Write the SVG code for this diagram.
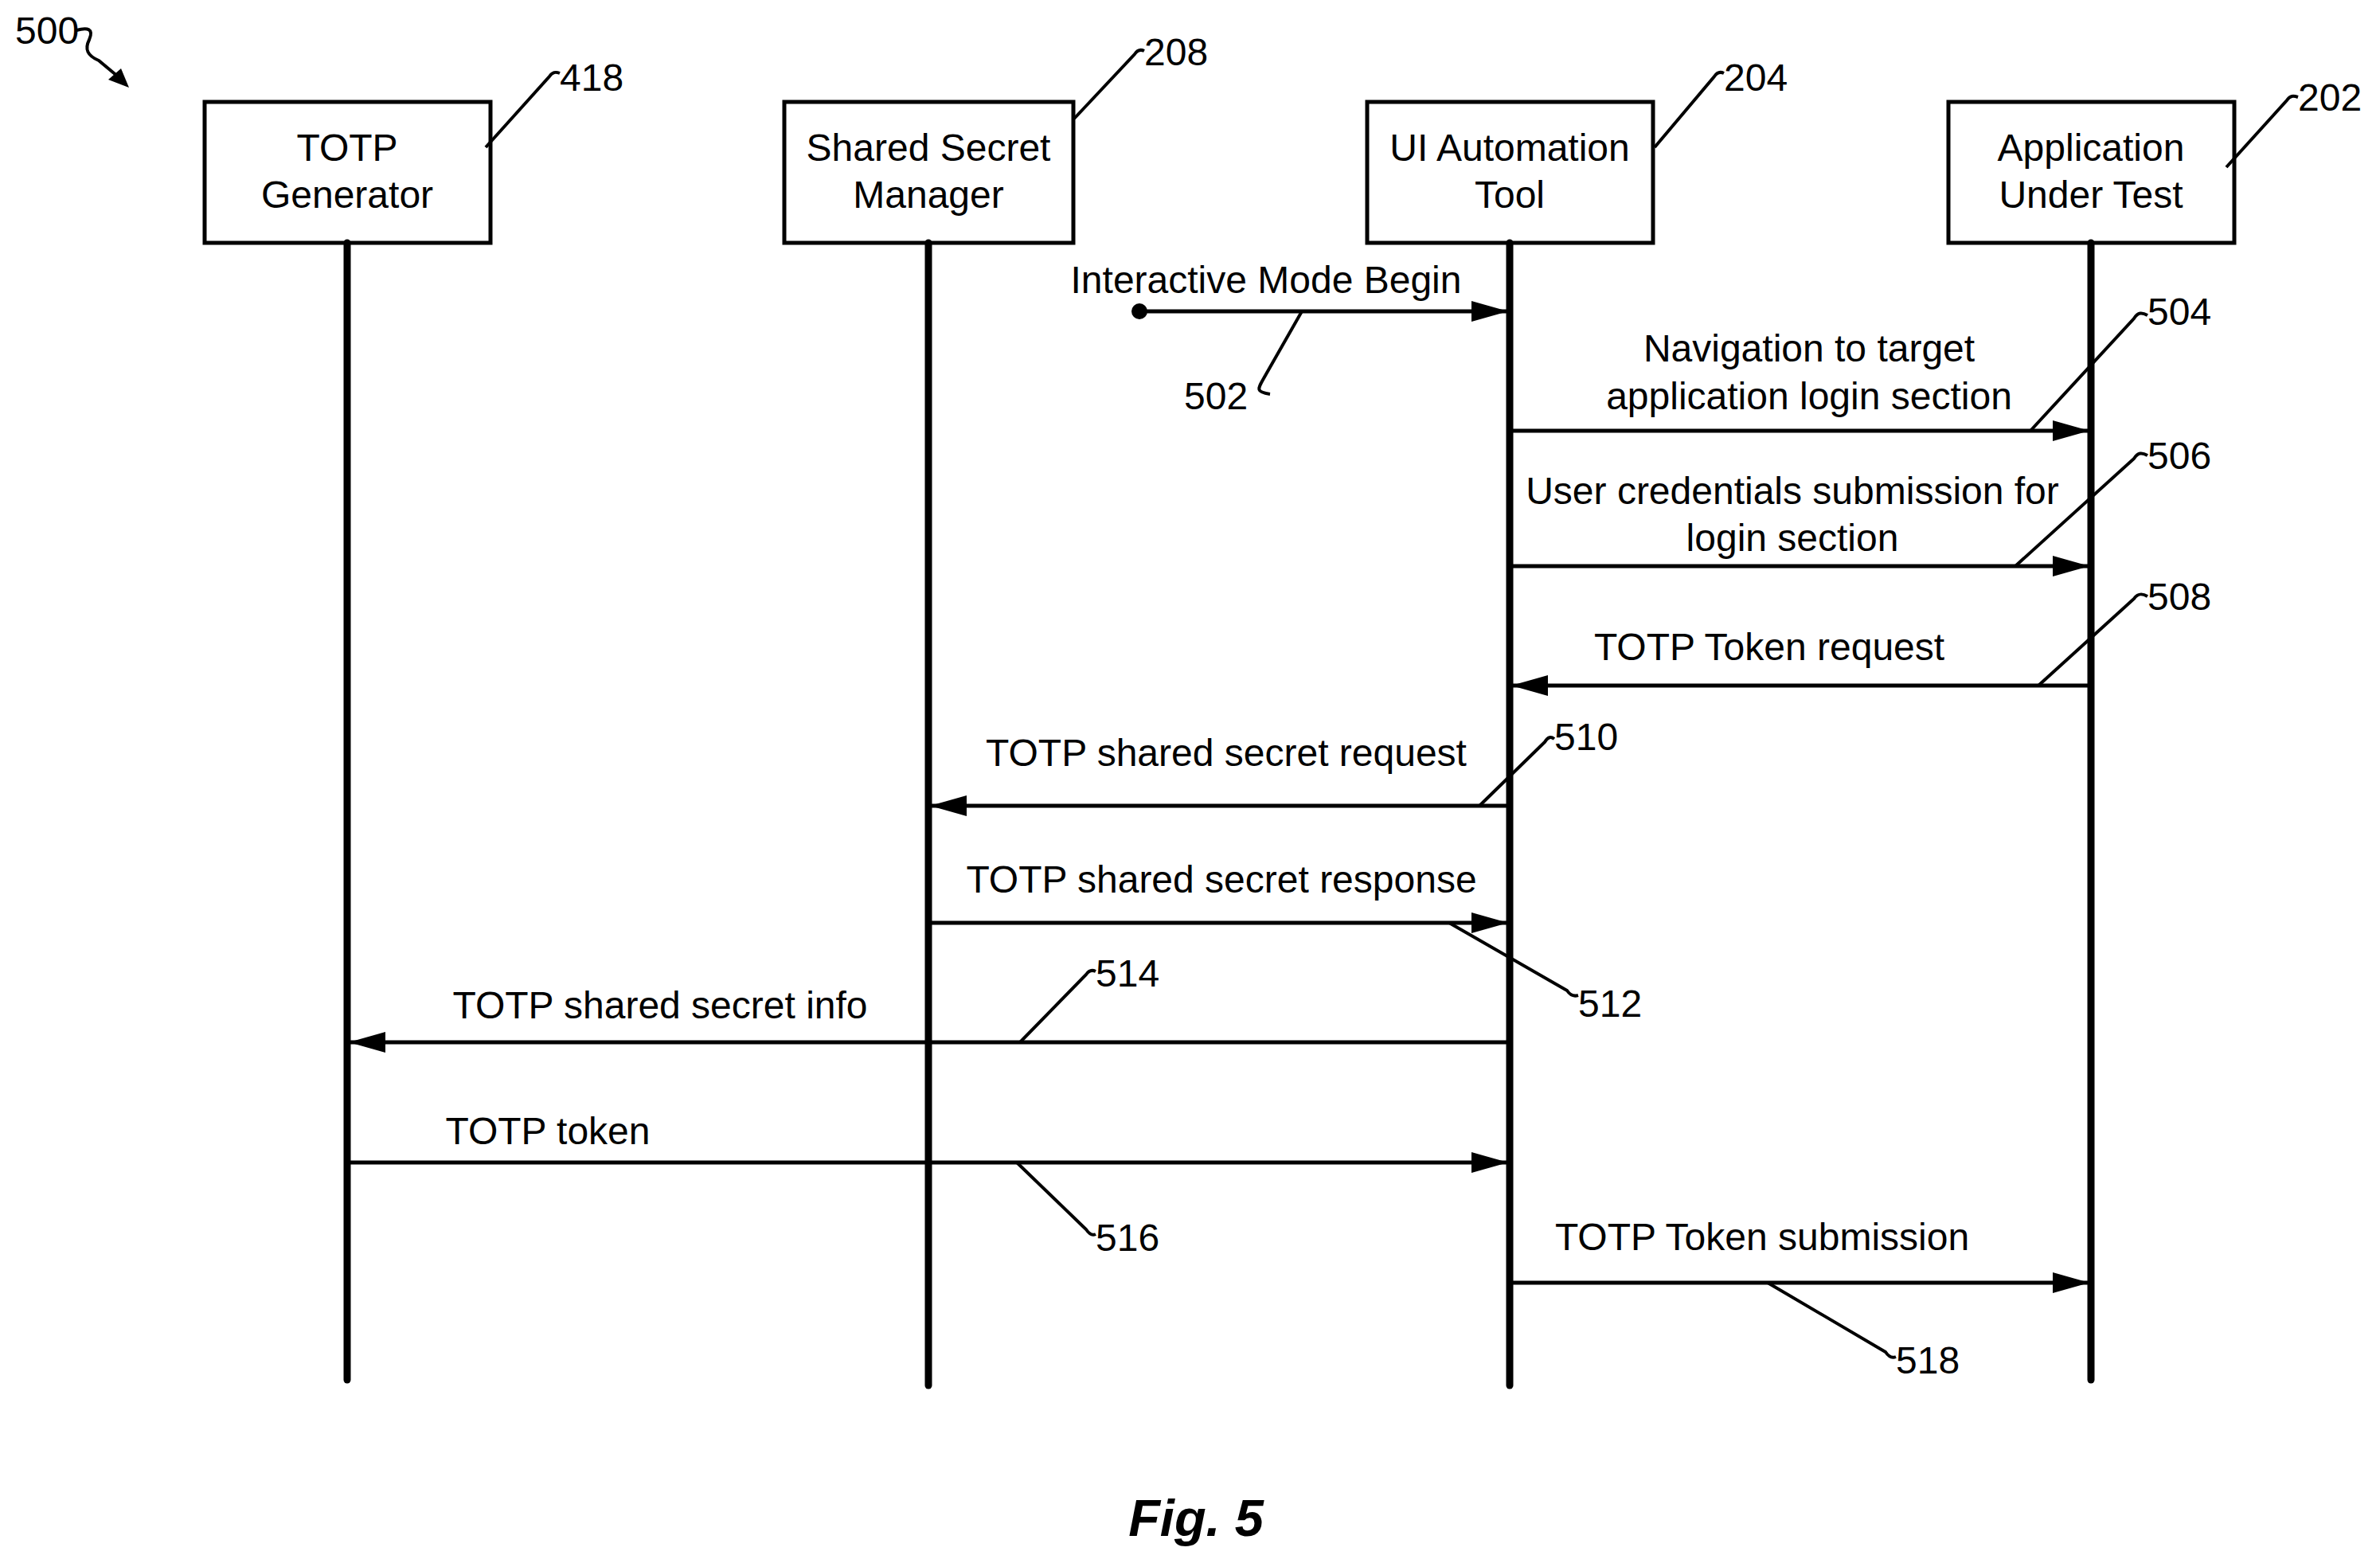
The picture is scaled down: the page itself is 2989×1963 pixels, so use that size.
<svg xmlns="http://www.w3.org/2000/svg" width="2989" height="1963" viewBox="0 0 2989 1963">
<style>
text{font-family:"Liberation Sans",Arial,sans-serif;font-size:48px;fill:#000}
.m{text-anchor:middle}
.box{fill:#fff;stroke:#000;stroke-width:5}
.life{stroke:#000;stroke-width:9;stroke-linecap:round}
.msg{stroke:#000;stroke-width:5;fill:none;marker-end:url(#ah)}
.ld{stroke:#000;stroke-width:4;fill:none}
</style>
<defs>
<marker id="ah" markerUnits="userSpaceOnUse" markerWidth="46" markerHeight="26" refX="44" refY="13" orient="auto"><path d="M0,0 L46,13 L0,26 Z" fill="#000"/></marker>
</defs>
<rect width="2989" height="1963" fill="#fff"/>
<g id="n418"><rect class="box" x="257" y="128" width="359" height="177"/><text class="m" x="436" y="202">TOTP</text><text class="m" x="436" y="261">Generator</text></g>
<g id="n208"><rect class="box" x="985" y="128" width="363" height="177"/><text class="m" x="1166" y="202">Shared Secret</text><text class="m" x="1166" y="261">Manager</text></g>
<g id="n204"><rect class="box" x="1717" y="128" width="359" height="177"/><text class="m" x="1896" y="202">UI Automation</text><text class="m" x="1896" y="261">Tool</text></g>
<g id="n202"><rect class="box" x="2447" y="128" width="359" height="177"/><text class="m" x="2626" y="202">Application</text><text class="m" x="2626" y="261">Under Test</text></g>
<g id="lifelines">
<line class="life" x1="436" y1="305" x2="436" y2="1733"/>
<line class="life" x1="1166" y1="305" x2="1166" y2="1740"/>
<line class="life" x1="1896" y1="305" x2="1896" y2="1740"/>
<line class="life" x1="2626" y1="305" x2="2626" y2="1733"/>
</g>
<g id="connectors">
<circle cx="1431" cy="391" r="10"/>
<line class="msg" x1="1431" y1="391" x2="1892" y2="391"/>
<line class="msg" x1="1896" y1="541" x2="2622" y2="541"/>
<line class="msg" x1="1896" y1="711" x2="2622" y2="711"/>
<line class="msg" x1="2626" y1="861" x2="1900" y2="861"/>
<line class="msg" x1="1896" y1="1012" x2="1170" y2="1012"/>
<line class="msg" x1="1166" y1="1159" x2="1892" y2="1159"/>
<line class="msg" x1="1896" y1="1309" x2="440" y2="1309"/>
<line class="msg" x1="436" y1="1460" x2="1892" y2="1460"/>
<line class="msg" x1="1896" y1="1611" x2="2622" y2="1611"/>
</g>
<g id="labels">
<text class="m" x="1590" y="368">Interactive Mode Begin</text>
<text class="m" x="2272" y="454">Navigation to target</text>
<text class="m" x="2272" y="514">application login section</text>
<text class="m" x="2251" y="633">User credentials submission for</text>
<text class="m" x="2251" y="692">login section</text>
<text class="m" x="2222" y="829">TOTP Token request</text>
<text class="m" x="1540" y="962">TOTP shared secret request</text>
<text class="m" x="1534" y="1121">TOTP shared secret response</text>
<text class="m" x="829" y="1279">TOTP shared secret info</text>
<text class="m" x="688" y="1437">TOTP token</text>
<text class="m" x="2213" y="1570">TOTP Token submission</text>
</g>
<g id="refs">
<path class="ld" d="M1635,391 L1590,470 C1580,488 1575,492 1595,495"/><text x="1487" y="514">502</text>
<path class="ld" d="M2550,541 L2680,400 C2685,392 2690,392 2697,396"/><text x="2697" y="408">504</text>
<path class="ld" d="M2531,711 L2680,576 C2685,568 2690,568 2697,572"/><text x="2697" y="589">506</text>
<path class="ld" d="M2560,861 L2680,752 C2685,745 2690,745 2697,749"/><text x="2697" y="766">508</text>
<path class="ld" d="M1858,1012 L1940,932 C1944,925 1948,925 1952,928"/><text x="1952" y="942">510</text>
<path class="ld" d="M1820,1159 L1968,1244 C1972,1250 1976,1252 1982,1250"/><text x="1982" y="1277">512</text>
<path class="ld" d="M1281,1309 L1364,1224 C1368,1218 1372,1218 1376,1220"/><text x="1376" y="1239">514</text>
<path class="ld" d="M1277,1460 L1364,1544 C1368,1550 1372,1552 1376,1550"/><text x="1376" y="1571">516</text>
<path class="ld" d="M2220,1611 L2368,1698 C2372,1704 2376,1706 2381,1704"/><text x="2381" y="1725">518</text>
<path class="ld" d="M610,185 L690,96 C694,90 698,90 703,92"/><text x="703" y="114">418</text>
<path class="ld" d="M1349,149 L1425,68 C1429,62 1433,62 1437,64"/><text x="1437" y="82">208</text>
<path class="ld" d="M2078,185 L2153,96 C2157,90 2161,90 2165,92"/><text x="2165" y="114">204</text>
<path class="ld" d="M2796,210 L2872,126 C2876,120 2880,120 2886,122"/><text x="2886" y="139">202</text>
<text x="19" y="55">500</text>
<path class="ld" d="M96,38 C110,34 118,36 112,50 C106,62 110,70 124,76 L148,96"/>
<path d="M162,110 L136,100 L152,86 Z" fill="#000"/>
<text class="m" x="1502" y="1929" style="font-size:65px;font-weight:bold;font-style:italic">Fig. 5</text>
</g>
</svg>
